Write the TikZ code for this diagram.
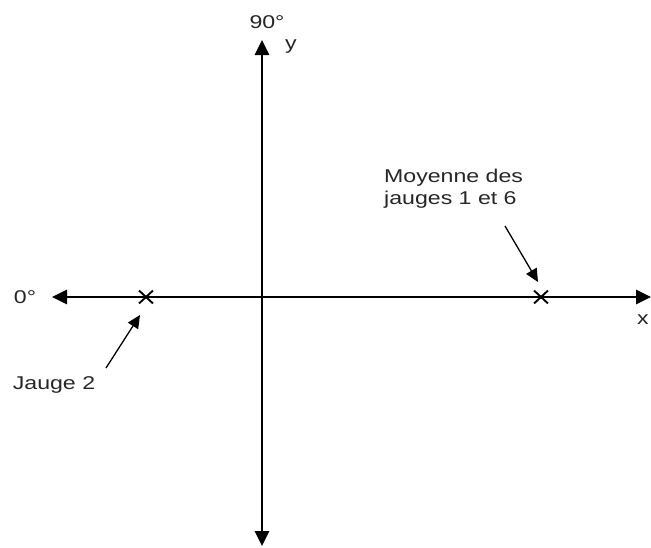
\documentclass[tikz,border=0pt]{standalone}
\usepackage{fontspec}
\setmainfont{Liberation Sans}
\usetikzlibrary{arrows.meta,shapes.misc}
\begin{document}
\begin{tikzpicture}[x=1pt,y=-1pt,
  axis/.style={line width=2.8pt,-{Triangle[length=15pt,width=14pt]}},
  pointer/.style={line width=1.3pt,-{Triangle[length=13pt,width=12pt]}},
  mark x/.style={cross out,draw,line width=1.9pt,minimum width=12pt,minimum height=11pt,inner sep=0pt},
  lbl/.style={font=\fontsize{18.5}{22}\selectfont,inner sep=0pt,text=black!85}]
\useasboundingbox (0,0) rectangle (651,547);
\coordinate (O) at (262,297);
\coordinate (L) at (52,297);
\coordinate (R) at (651,297);
\coordinate (T) at (262,40);
\coordinate (B) at (262,546);
\draw[axis] (O) -- (L);
\draw[axis] (O) -- (R);
\draw[axis] (O) -- (T);
\draw[axis] (O) -- (B);
\node[mark x] (j2) at (146,297) {};
\node[mark x] (m16) at (541,297) {};
\node[lbl] (zero) at (25,297) {\scalebox{1.25}[1]{0°}};
\node[lbl] (ninety) at (267,22) {\scalebox{1.25}[1]{90°}};
\node[lbl] (ylab) at (291,47) {\scalebox{1.25}[1]{y}};
\node[lbl] (xlab) at (643,320) {\scalebox{1.25}[1]{x}};
\node[lbl] (jauge) at (54,385) {\scalebox{1.25}[1]{Jauge 2}};
\node[lbl,align=left,anchor=north west] (moy) at (384,169) {\scalebox{1.25}[1]{Moyenne des}\\\scalebox{1.25}[1]{jauges 1 et 6}};
\coordinate (ja) at (106,368);
\coordinate (jt) at (140,315);
\coordinate (ma) at (505,226);
\coordinate (mt) at (538,282);
\draw[pointer] (ja) -- (jt);
\draw[pointer] (ma) -- (mt);
\end{tikzpicture}
\end{document}
